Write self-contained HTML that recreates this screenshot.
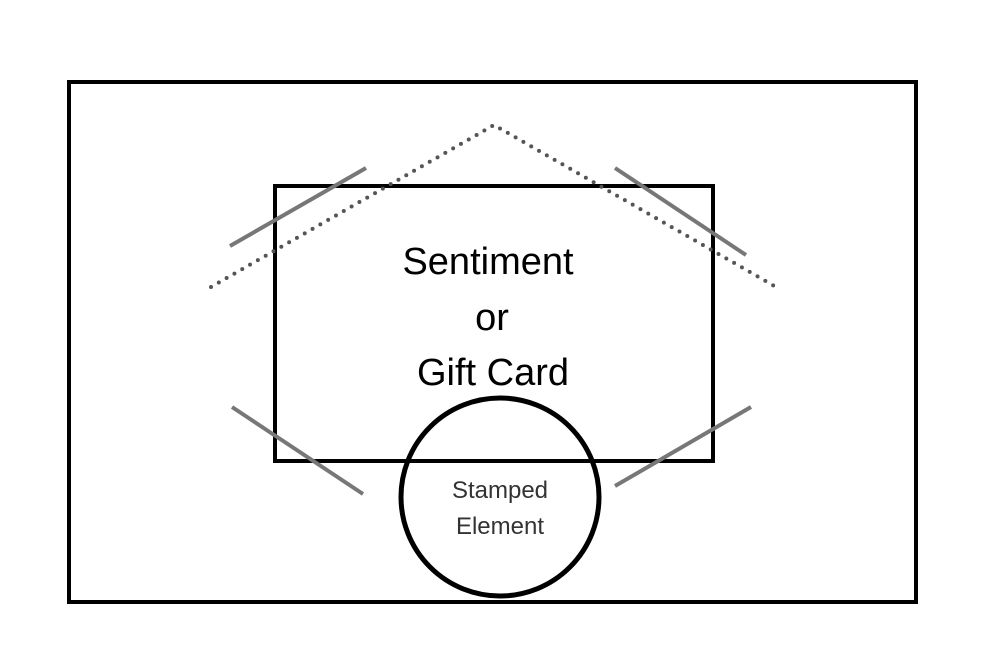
<!DOCTYPE html>
<html><head><style>html,body{margin:0;padding:0;background:#fff;width:1000px;height:667px;overflow:hidden}</style></head>
<body>
<svg width="1000" height="667" viewBox="0 0 1000 667" xmlns="http://www.w3.org/2000/svg">
<rect x="69" y="82" width="847" height="520" fill="none" stroke="#000" stroke-width="4"/>
<rect x="275" y="186" width="438" height="275" fill="none" stroke="#000" stroke-width="4"/>
<polyline points="211,287 494,125 776,287" fill="none" stroke="#555" stroke-width="4" stroke-dasharray="0,9" stroke-linecap="round" stroke-linejoin="round"/>
<g stroke="#777" stroke-width="4">
<line x1="230" y1="246" x2="366" y2="168"/>
<line x1="615" y1="168" x2="746" y2="255"/>
<line x1="232" y1="407" x2="363" y2="494"/>
<line x1="615" y1="486" x2="751" y2="407"/>
</g>
<circle cx="500" cy="497" r="99" fill="none" stroke="#000" stroke-width="5"/>
<g font-family="Liberation Sans, sans-serif" text-anchor="middle" fill="#000">
<text x="488" y="274" font-size="38">Sentiment</text>
<text x="492" y="330" font-size="38">or</text>
<text x="493" y="385" font-size="38">Gift Card</text>
<text x="500" y="498" font-size="24" fill="#333">Stamped</text>
<text x="500" y="534" font-size="24" fill="#333">Element</text>
</g>
</svg>
</body></html>
